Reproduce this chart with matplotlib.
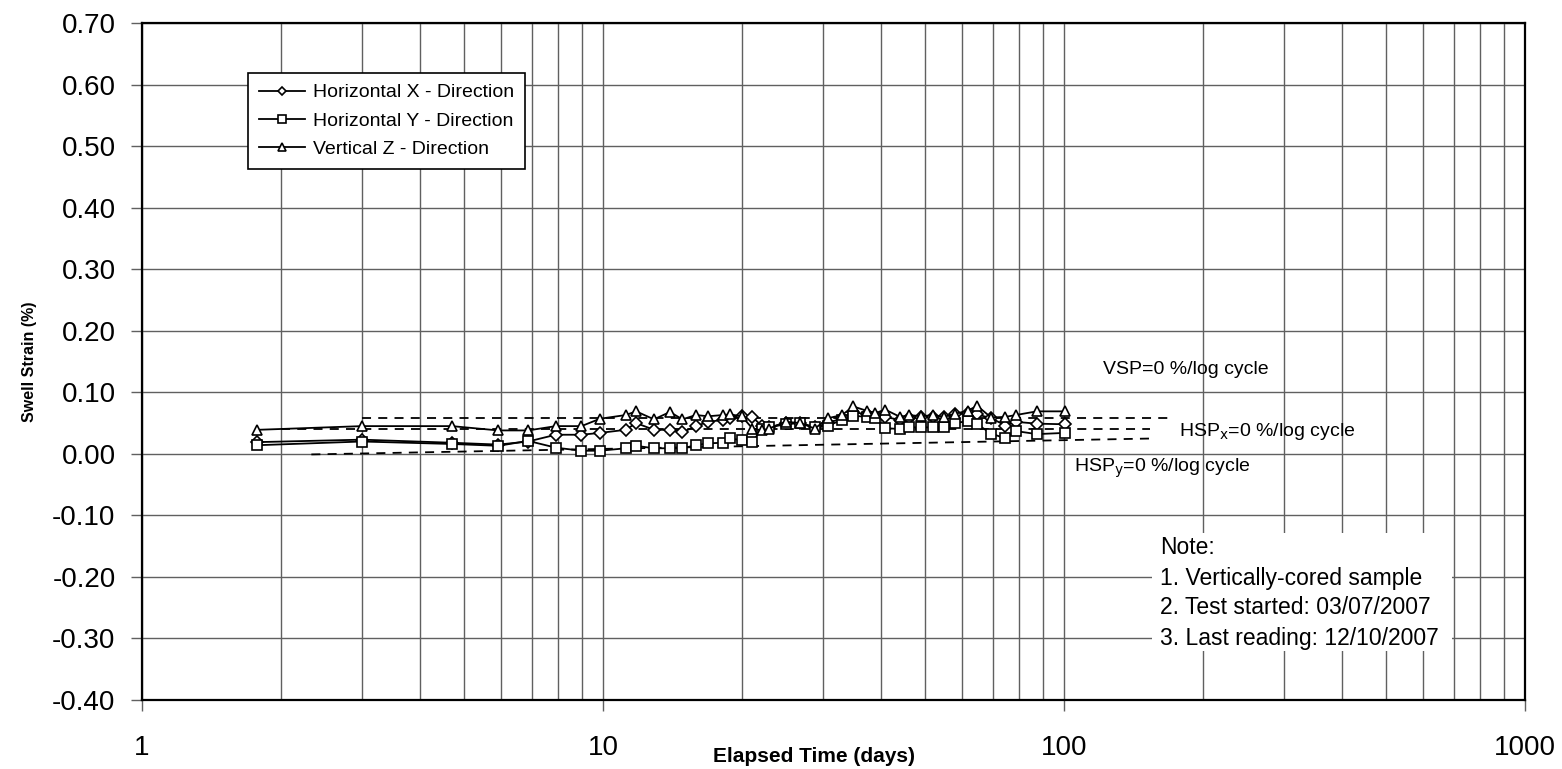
import numpy as np
import matplotlib
matplotlib.use("Agg")
import matplotlib.pyplot as plt
from matplotlib.patches import Rectangle
from matplotlib.ticker import FixedLocator, NullFormatter, LogLocator

plt.rcParams['font.family'] = ['Liberation Sans', 'DejaVu Sans']

# elapsed time (days) of each reading
days = [1.78, 3.0, 4.7, 5.93, 6.88, 7.9, 8.98, 9.85, 11.2, 11.8, 12.9, 13.97,
        14.87, 15.9, 16.9, 18.2, 18.9, 20.0, 21.1, 22.1, 22.9, 24.9, 26.8,
        28.8, 30.8, 33.0, 34.9, 37.3, 39.0, 40.9, 44.1, 46.1, 49.0, 52.1,
        54.9, 58.0, 61.8, 64.8, 69.5, 74.6, 78.6, 87.3, 100.5]

# swell strain (%)
x_dir = [0.019, 0.023, 0.018, 0.015, 0.020, 0.031, 0.031, 0.034, 0.039, 0.050,
         0.039, 0.039, 0.035, 0.045, 0.052, 0.055, 0.058, 0.062, 0.060, 0.045,
         0.043, 0.050, 0.050, 0.043, 0.050, 0.058, 0.068, 0.064, 0.062, 0.060,
         0.055, 0.058, 0.060, 0.060, 0.060, 0.064, 0.066, 0.064, 0.058, 0.046,
         0.052, 0.049, 0.048]
y_dir = [0.014, 0.020, 0.016, 0.013, 0.021, 0.010, 0.005, 0.005, 0.009, 0.013,
         0.009, 0.009, 0.009, 0.014, 0.017, 0.018, 0.025, 0.022, 0.020, 0.040,
         0.043, 0.048, 0.050, 0.043, 0.046, 0.055, 0.062, 0.060, 0.058, 0.042,
         0.040, 0.043, 0.043, 0.043, 0.044, 0.050, 0.053, 0.048, 0.033, 0.025,
         0.037, 0.032, 0.034]
z_dir = [0.039, 0.045, 0.045, 0.038, 0.038, 0.045, 0.045, 0.057, 0.063, 0.069,
         0.056, 0.068, 0.056, 0.063, 0.061, 0.063, 0.064, 0.061, 0.041, 0.038,
         0.041, 0.052, 0.050, 0.041, 0.058, 0.063, 0.077, 0.070, 0.066, 0.072,
         0.060, 0.063, 0.061, 0.063, 0.060, 0.065, 0.070, 0.078, 0.059, 0.060,
         0.063, 0.069, 0.069]

# fitted trend lines (end points)
vsp_days = [3.0, 173]
vsp_vals = [0.058, 0.058]
hspx_days = [2.0, 154]
hspx_vals = [0.040, 0.040]
hspy_days = [2.33, 158]
hspy_vals = [-0.001, 0.025]

y_ticks = np.round(np.arange(-0.4, 0.71, 0.1), 2)
x_ticks = [1, 10, 100, 1000]

fig = plt.figure(figsize=(15.62, 7.69), dpi=100)
ax = fig.add_axes([142 / 1562, 1 - 700 / 769, 1383 / 1562, 677 / 769])

mk = dict(color='black', lw=1.3, mfc='white', mec='black', mew=1.2, ms=7.5)
ax.plot(days, x_dir, marker='D', label='Horizontal X - Direction', zorder=4,
        **{**mk, 'ms': 6.5})
ax.plot(days, y_dir, marker='s', label='Horizontal Y - Direction', zorder=4, **mk)
ax.plot(days, z_dir, marker='^', label='Vertical Z - Direction', zorder=4, **mk)

dash = dict(color='black', lw=1.3, ls=(0, (5, 4)), zorder=3)
ax.plot(vsp_days, vsp_vals, **dash)
ax.plot(hspx_days, hspx_vals, **dash)
ax.plot(hspy_days, hspy_vals, **dash)

ax.set_xscale('log')
ax.set_xlim(1, 1000)
ax.set_ylim(-0.4, 0.7)
ax.set_yticks(y_ticks)
ax.set_yticklabels(['%.2f' % (v + 0.0) if abs(v) > 1e-9 else '0.00' for v in y_ticks])
ax.xaxis.set_major_locator(FixedLocator(x_ticks))
ax.set_xticklabels([str(v) for v in x_ticks])
ax.xaxis.set_minor_locator(LogLocator(base=10, subs=np.arange(2, 10)))
ax.xaxis.set_minor_formatter(NullFormatter())

ax.grid(True, which='both', axis='x', color='#606060', lw=1.0)
ax.grid(True, which='major', axis='y', color='#606060', lw=1.0)
ax.set_axisbelow(True)

ax.tick_params(axis='both', which='major', labelsize=20, length=8, width=1,
               direction='out', color='#606060')
ax.tick_params(axis='x', which='major', pad=17)
ax.tick_params(axis='y', which='major', pad=11)
ax.tick_params(axis='x', which='minor', length=0)
for s in ax.spines.values():
    s.set_linewidth(1.6)

ax.set_xlabel('Elapsed Time (days)', fontsize=15, fontweight='bold', va='center')
ax.xaxis.set_label_coords(0.486, -0.083)
ax.set_ylabel('Swell Strain (%)', fontsize=11.5, fontweight='bold', va='center')
ax.yaxis.set_label_coords(-0.081, 0.5)

# trend line annotations
ax.text(121.5, 0.137, 'VSP=0 %/log cycle', fontsize=14, va='center')
ax.text(178, 0.036, 'HSP$_{\\rm x}$=0 %/log cycle', fontsize=14, va='center')
ax.text(105, -0.024, 'HSP$_{\\rm y}$=0 %/log cycle', fontsize=14, va='center')

# note block (white background hides the grid)
ax.add_patch(Rectangle((1152, 769 - 651), 300, 118, transform=None,
                       facecolor='white', edgecolor='none', zorder=2))
note = ['Note:', '1. Vertically-cored sample', '2. Test started: 03/07/2007',
        '3. Last reading: 12/10/2007']
for i, line in enumerate(note):
    fig.text(1160 / 1562, 1 - (548 + 30 * i) / 769, line, fontsize=16.5,
             va='center', zorder=5)

leg = ax.legend(loc='upper left', bbox_to_anchor=(0.0766, 0.926), fontsize=14,
                frameon=True, fancybox=False, edgecolor='black', framealpha=1,
                handlelength=2.4, handletextpad=0.4, labelspacing=0.55,
                borderpad=0.55, borderaxespad=0, markerscale=0.7)
leg.get_frame().set_linewidth(1.2)

fig.savefig('out.png', dpi=100)
